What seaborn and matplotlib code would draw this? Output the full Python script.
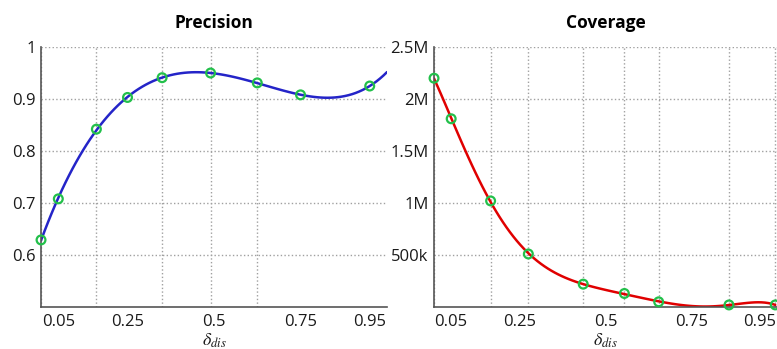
import matplotlib
matplotlib.use("Agg")
import matplotlib.pyplot as plt
import seaborn as sns
import pandas as pd

# values
prec_x = [0.0, 0.05, 0.16, 0.25, 0.35, 0.49, 0.625, 0.75, 0.95]
prec_y = [0.629, 0.708, 0.842, 0.903, 0.941, 0.950, 0.931, 0.908, 0.925]

cov_x = [0.0, 0.05, 0.165, 0.275, 0.435, 0.555, 0.655, 0.86, 0.995]
cov_y = [2.20e6, 1.81e6, 1.02e6, 0.51e6, 0.22e6, 0.13e6, 0.05e6, 0.02e6, 0.02e6]

x_tick_vals = [0.05, 0.25, 0.5, 0.75, 0.95]
x_tick_labels = ["0.05", "0.25", "0.5", "0.75", "0.95"]
prec_ticks = [0.6, 0.7, 0.8, 0.9, 1.0]
prec_tick_labels = ["0.6", "0.7", "0.8", "0.9", "1"]
cov_ticks = [0.5e6, 1.0e6, 1.5e6, 2.0e6, 2.5e6]
cov_tick_labels = ["500k", "1M", "1.5M", "2M", "2.5M"]

sns.set_style("white")
plt.rcParams["font.family"] = ["Open Sans", "DejaVu Sans"]
plt.rcParams["mathtext.fontset"] = "stix"

df_prec = pd.DataFrame({"x": prec_x, "y": prec_y})
df_cov = pd.DataFrame({"x": cov_x, "y": cov_y})

fig = plt.figure(figsize=(7.77, 3.49), dpi=100)
ax1 = fig.add_axes([0.0528, 0.1203, 0.4453, 0.745])
ax2 = fig.add_axes([0.5586, 0.1203, 0.4414, 0.745])

marker_color = "#22c04a"


def style_axis(ax, df, title, yticks, ylabels, ylim):
    ax.set_xlim(0, 1)
    ax.set_ylim(*ylim)
    # gridlines / small ticks sit on the sample positions, labels are separate
    ax.set_xticks(df["x"].tolist(), minor=True)
    ax.set_xticks(x_tick_vals)
    ax.set_xticklabels(x_tick_labels)
    ax.set_yticks(yticks)
    ax.set_yticklabels(ylabels)
    ax.grid(False)
    ax.grid(True, which="minor", axis="x", linestyle=":", color="#a0a0a0", linewidth=1)
    ax.grid(True, which="major", axis="y", linestyle=":", color="#a0a0a0", linewidth=1)
    ax.tick_params(axis="x", which="major", length=0, labelsize=12, pad=5, labelcolor="#1a1a1a")
    ax.tick_params(axis="x", which="minor", direction="in", length=3, color="#555555")
    ax.tick_params(axis="y", direction="in", length=3, color="#555555", labelsize=12, pad=4,
                   labelcolor="#1a1a1a")
    for s in ["top", "right"]:
        ax.spines[s].set_visible(False)
    for s in ["left", "bottom"]:
        ax.spines[s].set_color("#555555")
        ax.spines[s].set_linewidth(1.2)
    ax.set_title(title, fontsize=12.5, fontweight="bold", pad=14, color="black")


style_axis(ax1, df_prec, "Precision", prec_ticks, prec_tick_labels, (0.5, 1.0))
style_axis(ax2, df_cov, "Coverage", cov_ticks, cov_tick_labels, (0, 2.5e6))

sns.regplot(data=df_prec, x="x", y="y", order=5, ci=None, scatter=False, truncate=False,
            line_kws={"color": "#2424c8", "linewidth": 1.8}, ax=ax1)
sns.regplot(data=df_cov, x="x", y="y", order=6, ci=None, scatter=False, truncate=True,
            line_kws={"color": "#e00000", "linewidth": 1.8}, ax=ax2)

for ax, df in [(ax1, df_prec), (ax2, df_cov)]:
    sns.scatterplot(data=df, x="x", y="y", ax=ax, marker="o", s=40,
                    facecolor="none", edgecolor=marker_color, linewidth=1.6,
                    zorder=5, clip_on=False)
    ax.set_xlabel(r"$\delta_{dis}$", fontsize=13, labelpad=1, color="#1a1a1a")
    ax.set_ylabel("")
    ax.set_xlim(0, 1)

fig.savefig("out.png", dpi=100)
